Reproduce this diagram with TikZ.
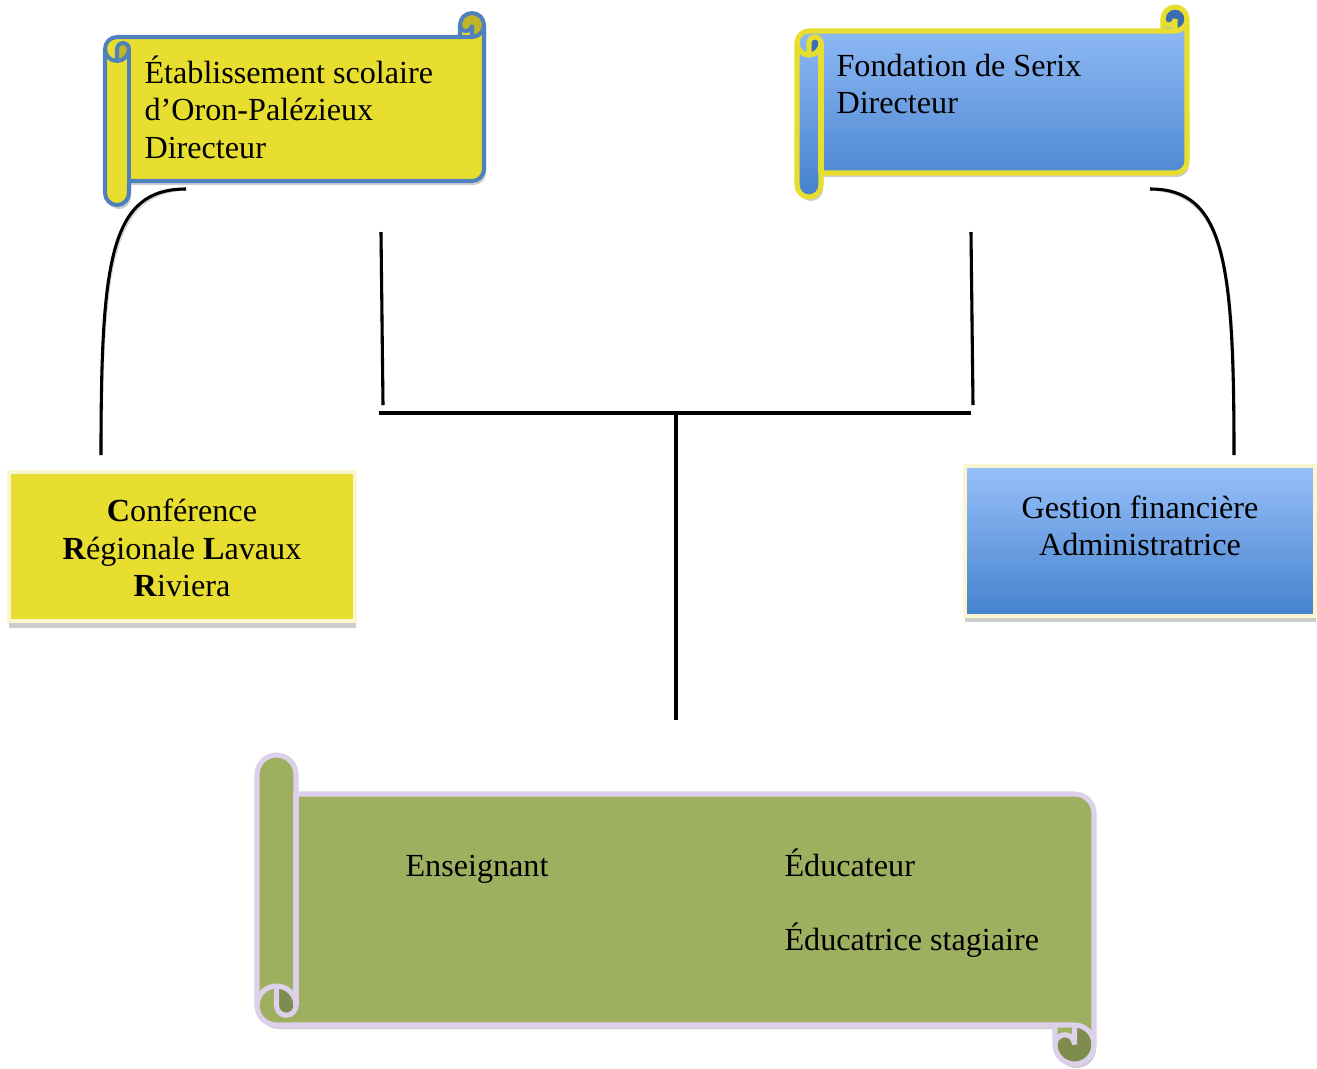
\documentclass[tikz,border=0pt]{standalone}
\usepackage{fontspec}
\setmainfont{Liberation Serif}
\definecolor{yel}{RGB}{232,222,48}
\definecolor{yeldark}{RGB}{192,180,40}
\definecolor{blueline}{RGB}{79,129,189}
\definecolor{bluetop}{RGB}{152,192,250}
\definecolor{bluebot}{RGB}{68,130,205}
\definecolor{bluedark}{RGB}{58,108,180}
\definecolor{grn}{RGB}{159,175,96}
\definecolor{grndark}{RGB}{126,141,78}
\definecolor{lav}{RGB}{220,208,234}
\definecolor{paleyel}{RGB}{250,247,208}
\definecolor{shad}{RGB}{205,205,205}
\newcommand\ScrSet[3]{\pgfmathsetmacro\scrW{#1}\pgfmathsetmacro\scrH{#2}\pgfmathsetmacro\scrC{#3}\pgfmathsetmacro\scrCh{#3/2}\pgfmathsetmacro\scrCq{#3/4}}
\newcommand\ScrSil[1]{\path[#1] (0,\scrC+\scrCh) arc[start angle=180, delta angle=90, radius=\scrCh] -- (\scrW-\scrC,\scrC) -- (\scrW-\scrC,\scrCh) arc[start angle=180, delta angle=180, radius=\scrCh] -- (\scrW,\scrH-\scrC-\scrCh) arc[start angle=0, delta angle=90, radius=\scrCh] -- (\scrC,\scrH-\scrC) -- (\scrC,\scrH-\scrCh) arc[start angle=0, delta angle=180, radius=\scrCh] -- cycle;}
\newcommand\ScrDetail[2]{%
  \fill[#1] (\scrW-\scrCh,\scrC) arc[start angle=90, delta angle=-270, radius=\scrCh] arc[start angle=180, delta angle=-180, radius=\scrCq] -- cycle;
  \fill[#1] (\scrCh,2*\scrC) arc[start angle=90, delta angle=-90, radius=\scrCh] arc[start angle=0, delta angle=-180, radius=\scrCq] -- cycle;
  \draw[#2] (\scrW-\scrC,\scrC) -- (\scrW-\scrCh,\scrC) arc[start angle=90, delta angle=-90, radius=\scrCh];
  \draw[#2] (\scrW-\scrCh,\scrC) -- (\scrW-\scrCh,\scrCh) arc[start angle=0, delta angle=180, radius=\scrCq];
  \draw[#2] (\scrCh,2*\scrC) -- (\scrCh,\scrC+\scrCh) arc[start angle=180, delta angle=180, radius=\scrCq] arc[start angle=0, delta angle=180, radius=\scrCh];
  \draw[#2] (\scrC,\scrC+\scrCh) -- (\scrC,\scrH-\scrC);
}
\begin{document}
\begin{tikzpicture}[x=0.373pt,y=-0.373pt,
  conn/.style={line width=1.15pt, line cap=butt},
  connshadow/.style={line width=1.15pt, draw=black!16},
  txt/.style={inner sep=0pt, font=\fontsize{12}{14}\selectfont},
  boxline/.style={draw=paleyel, line width=1.5pt, inner sep=0pt},
]
\fill[white] (0,0) rectangle (1317,1068);
\useasboundingbox (0,0) rectangle (1317,1068);

% ---------- scroll A (yellow, blue outline)
\ScrSet{379}{192}{24}
\begin{scope}[shift={(107,17)}]\ScrSil{fill=shad}\end{scope}
\begin{scope}[shift={(105,13)}]
  \ScrSil{fill=yel}
  \ScrDetail{yeldark}{draw=blueline, line width=1.5pt}
  \ScrSil{draw=blueline, line width=1.5pt, line join=round}
\end{scope}

% ---------- scroll B (blue, yellow outline)
\ScrSet{390}{190}{24}
\begin{scope}[shift={(799,11)}]\ScrSil{fill=shad}\end{scope}
\begin{scope}[shift={(797,7)}]
  \ScrSil{top color=bluetop, bottom color=bluebot}
  \ScrDetail{bluedark}{draw=yel, line width=1.9pt}
  \ScrSil{draw=yel, line width=1.9pt, line join=round}
\end{scope}

% ---------- scroll C (green, lavender outline, flipped)
\ScrSet{837}{309}{39}
\begin{scope}[shift={(259,1068)}, yscale=-1]\ScrSil{fill=shad}\end{scope}
\begin{scope}[shift={(257,1064)}, yscale=-1]
  \ScrSil{fill=grn}
  \ScrDetail{grndark}{draw=lav, line width=1.9pt}
  \ScrSil{draw=lav, line width=1.9pt, line join=round}
\end{scope}

% ---------- rectangles
\fill[shad] (9,478) rectangle (356,628);
\node[boxline, fill=yel, minimum width=346*0.373pt, minimum height=149*0.373pt] (crl) at (182,546.5) {};
\fill[shad] (965,472) rectangle (1316,622);
\node[boxline, top color=bluetop, bottom color=bluebot, minimum width=350*0.373pt, minimum height=150*0.373pt] (gf) at (1140,541) {};

% ---------- texts
\node[txt, align=left, anchor=west] (esc) at (144,107) {Établissement scolaire\\d’Oron-Palézieux\\Directeur};
\node[txt, align=left, anchor=west] (fds) at (836,84) {Fondation de Serix\\Directeur};
\node[txt, align=center] (crlt) at (182,548) {\textbf{C}onférence\\\textbf{R}égionale \textbf{L}avaux\\\textbf{R}iviera};
\node[txt, align=center] (gft) at (1140,526) {Gestion financière\\Administratrice};
\node[txt, anchor=base west] (ens) at (405,876) {Enseignant};
\node[txt, anchor=base west] (edu) at (784,876) {Éducateur};
\node[txt, anchor=base west] (eds) at (784,950) {Éducatrice stagiaire};

% ---------- connectors
\coordinate (la) at (186,189); \coordinate (lb) at (101,455);
\coordinate (ra) at (1150,189); \coordinate (rb) at (1234,455);
\coordinate (va1) at (381,232); \coordinate (va2) at (383,405);
\coordinate (vb1) at (971,232); \coordinate (vb2) at (973,405);
\coordinate (h1) at (379,413); \coordinate (h2) at (971,413);
\coordinate (d1) at (676,415); \coordinate (d2) at (676,720);

\begin{scope}[shift={(1,4)}]
  \draw[connshadow] (la) .. controls (110,189) and (101,260) .. (lb);
  \draw[connshadow] (ra) .. controls (1224,189) and (1234,260) .. (rb);
  \draw[connshadow] (va1) -- (va2);
  \draw[connshadow] (vb1) -- (vb2);
  \draw[connshadow, line width=1.5pt] (h1) -- (h2);
  \draw[connshadow] (d1) -- (d2);
\end{scope}
\draw[conn] (la) .. controls (110,189) and (101,260) .. (lb);
\draw[conn] (ra) .. controls (1224,189) and (1234,260) .. (rb);
\draw[conn] (va1) -- (va2);
\draw[conn] (vb1) -- (vb2);
\draw[conn, line width=1.5pt] (h1) -- (h2);
\draw[conn] (d1) -- (d2);
\end{tikzpicture}
\end{document}
